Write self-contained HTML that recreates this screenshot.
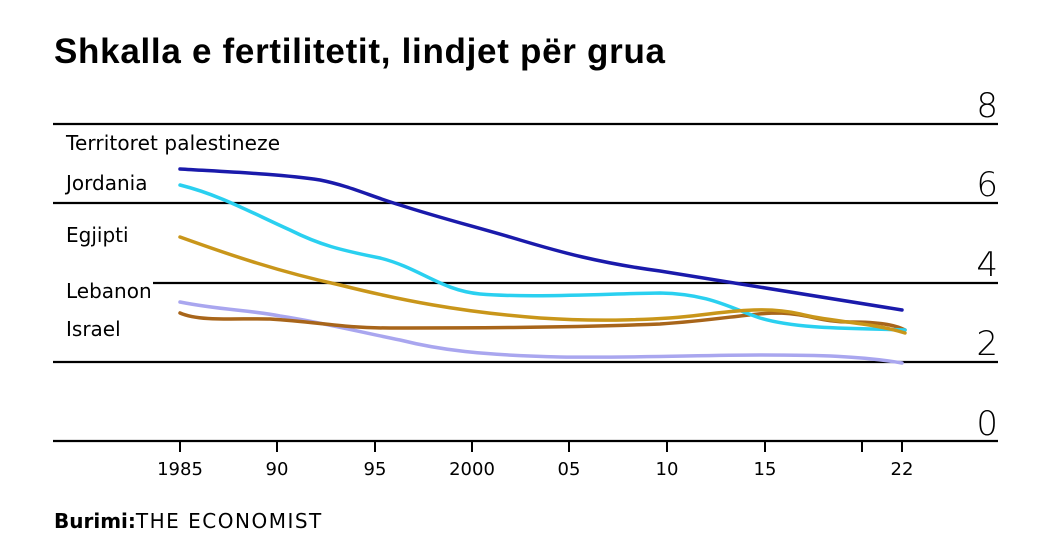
<!DOCTYPE html>
<html><head><meta charset="utf-8"><style>
body{margin:0;background:#fff;width:1040px;height:550px;overflow:hidden}
svg{display:block}
</style></head><body>
<svg width="1040" height="550" xmlns="http://www.w3.org/2000/svg" font-family="'DejaVu Sans','Liberation Sans',sans-serif">
<text x="54" y="63" font-family="'Liberation Sans',sans-serif" font-weight="bold" font-size="35" fill="#000" textLength="611">Shkalla e fertilitetit, lindjet për grua</text>
<g stroke="#000" stroke-width="2.2">
<line x1="53" y1="124" x2="998" y2="124"/>
<line x1="53" y1="203" x2="998" y2="203"/>
<line x1="153" y1="283" x2="998" y2="283"/>
<line x1="53" y1="362" x2="998" y2="362"/>
<line x1="53" y1="441" x2="998" y2="441"/>
<g stroke-width="2">
<line x1="180" y1="441" x2="180" y2="452"/><line x1="277" y1="441" x2="277" y2="452"/>
<line x1="375" y1="441" x2="375" y2="452"/><line x1="472" y1="441" x2="472" y2="452"/>
<line x1="569" y1="441" x2="569" y2="452"/><line x1="667" y1="441" x2="667" y2="452"/>
<line x1="765" y1="441" x2="765" y2="452"/><line x1="862" y1="441" x2="862" y2="452"/>
<line x1="902" y1="441" x2="902" y2="452"/></g>
</g>
<g font-size="34" fill="#000" text-anchor="end" font-weight="200">
<text x="998" y="117">8</text><text x="998" y="196">6</text><text x="998" y="276">4</text><text x="998" y="355">2</text><text x="998" y="435">0</text>
</g>
<g font-size="18" fill="#000" text-anchor="middle">
<text x="180" y="475">1985</text><text x="277" y="475">90</text><text x="375" y="475">95</text><text x="472" y="475">2000</text>
<text x="569" y="475">05</text><text x="667" y="475">10</text><text x="765" y="475">15</text><text x="902" y="475">22</text>
</g>
<g font-size="20" fill="#000">
<text x="66" y="150" textLength="214">Territoret palestineze</text>
<text x="66" y="190">Jordania</text>
<text x="66" y="242">Egjipti</text>
<text x="66" y="298">Lebanon</text>
<text x="66" y="336">Israel</text>
</g>
<g fill="none" stroke-width="3.5" stroke-linecap="round">
<path stroke="#a9a6ef" d="M180,302 C220,310 250,310 280,316 C320,322 360,332 400,340 C440,350 480,355 560,357 C640,358 700,355 760,355 C820,355 860,356 902,363"/>
<path stroke="#a8651a" d="M180,313 C200,322 240,318 270,319 C320,322 340,328 390,328 C460,328 560,328 660,324 C720,320 750,313 780,313 C810,314 820,322 850,322 C880,322 895,325 905,330"/>
<path stroke="#2ad0f0" d="M180,185 C220,195 250,212 290,230 C320,245 340,250 380,258 C420,268 440,290 480,294 C530,298 600,294 660,293 C710,294 730,308 760,318 C800,330 860,328 905,330"/>
<path stroke="#c9961a" d="M180,237 C230,255 280,272 340,285 C400,300 460,312 540,318 C600,322 660,320 700,315 C740,310 770,307 800,314 C830,322 870,322 905,333"/>
<path stroke="#1a1aab" d="M180,169 C230,172 280,174 320,180 C350,186 370,196 400,205 C440,218 480,228 520,240 C560,252 600,263 660,271 C720,281 800,293 902,310"/>
</g>
<text x="54" y="528" font-family="'DejaVu Sans',sans-serif" font-size="20" fill="#000"><tspan font-weight="bold">Burimi:</tspan><tspan letter-spacing="1.5">THE ECONOMIST</tspan></text>
</svg>
</body></html>
